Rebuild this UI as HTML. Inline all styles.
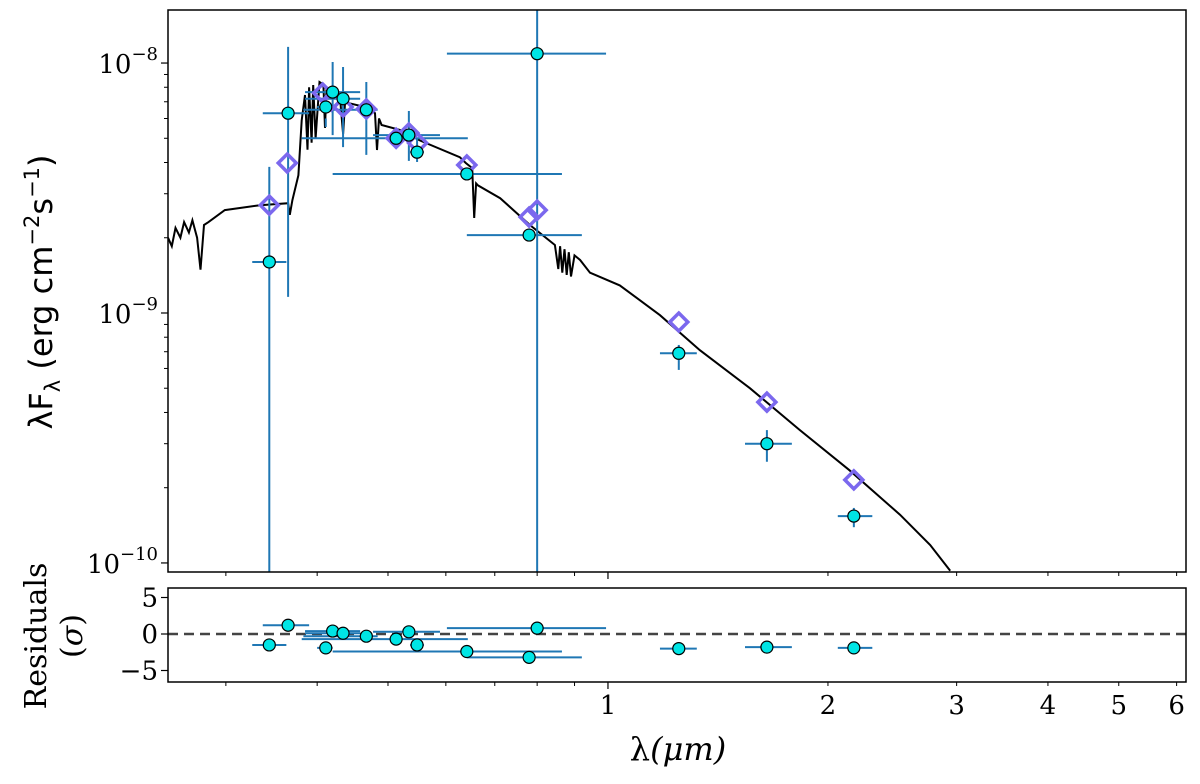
<!DOCTYPE html>
<html><head><meta charset="utf-8"><style>
body{margin:0;background:#fff;}
svg{display:block;font-family:"DejaVu Sans","Liberation Sans",sans-serif;}
</style></head><body>
<svg id="chart" width="1200" height="784" viewBox="0 0 1200 784" xmlns="http://www.w3.org/2000/svg">
<rect width="1200" height="784" fill="#fff"/>
<defs>
<clipPath id="clipMain"><rect x="168" y="10" width="1018" height="562"/></clipPath>
<clipPath id="clipRes"><rect x="168" y="588" width="1018" height="94"/></clipPath>
</defs>
<g id="main"></g>
<g id="res"></g>
<g id="axes"></g>
<text transform="translate(52,292) rotate(-90)" text-anchor="middle" font-size="32">λF<tspan font-size="21" dy="8">λ</tspan><tspan dy="-8"> (erg cm</tspan><tspan font-size="21" dy="-13">−2</tspan><tspan dy="13">s</tspan><tspan font-size="21" dy="-13">−1</tspan><tspan dy="13">)</tspan></text>
<text transform="translate(46,636) rotate(-90)" text-anchor="middle" font-size="30" font-family="DejaVu Serif,serif">Residuals</text>
<text transform="translate(82,636) rotate(-90)" text-anchor="middle" font-size="30" font-family="DejaVu Serif,serif">(<tspan font-style="italic">σ</tspan>)</text>
<text x="678" y="760" text-anchor="middle" font-size="32" font-family="DejaVu Serif,serif" font-style="italic"><tspan font-style="normal">λ</tspan>(μm)</text>
</svg>
<script>
const obsWave=[0.344,0.365,0.411,0.420,0.434,0.467,0.513,0.534,0.548,0.641,0.78,0.80,1.25,1.65,2.17];
const obsFlux=[1.6e-9,6.3e-9,6.67e-9,7.65e-9,7.2e-9,6.5e-9,5.0e-9,5.15e-9,4.4e-9,3.6e-9,2.05e-9,1.09e-8,6.9e-10,3.0e-10,1.54e-10];
const obsWaveLo=[0.326,0.337,0.400,0.385,0.385,0.383,0.381,0.477,0.536,0.420,0.641,0.602,1.178,1.540,2.063];
const obsWaveHi=[0.363,0.390,0.420,0.458,0.458,0.484,0.643,0.589,0.560,0.865,0.921,0.994,1.323,1.785,2.30];
const obsFluxLo=[1e-11,1.16e-9,5.55e-9,5.15e-9,4.61e-9,4.29e-9,4.8e-9,4.06e-9,4.02e-9,3.4e-9,1.95e-9,1e-11,5.92e-10,2.54e-10,1.39e-10];
const obsFluxHi=[3.84e-9,1.16e-8,6.0e-9,1.01e-8,9.64e-9,8.4e-9,5.2e-9,6.43e-9,5.0e-9,3.8e-9,2.15e-9,1e-7,7.45e-10,3.40e-10,1.66e-10];
const synWave=[0.344,0.364,0.407,0.418,0.434,0.467,0.513,0.534,0.549,0.641,0.78,0.80,1.25,1.65,2.17];
const synFlux=[2.70e-9,3.98e-9,7.59e-9,7.05e-9,6.67e-9,6.55e-9,5.0e-9,5.25e-9,4.79e-9,3.91e-9,2.42e-9,2.58e-9,9.2e-10,4.4e-10,2.15e-10];
const residuals=[-1.5,1.2,-1.9,0.4,0.1,-0.3,-0.7,0.3,-1.5,-2.4,-3.2,0.8,-2.0,-1.8,-1.9];
const modelWave=[0.250,0.253,0.256,0.260,0.263,0.267,0.270,0.274,0.277,0.280,0.284,0.299,0.334,0.365,0.367,0.370,0.377,0.381,0.385,0.388,0.390,0.393,0.395,0.398,0.403,0.408,0.410,0.412,0.417,0.430,0.434,0.437,0.443,0.472,0.480,0.483,0.486,0.490,0.519,0.553,0.627,0.639,0.652,0.656,0.660,0.664,0.712,0.782,0.846,0.855,0.860,0.866,0.872,0.878,0.884,0.890,0.900,0.916,0.945,1.038,1.178,1.336,1.564,1.831,2.14,2.51,2.76,2.94];
const modelFlux=[2.0e-9,1.85e-9,2.19e-9,2.0e-9,2.31e-9,2.1e-9,2.35e-9,2.0e-9,1.49e-9,2.25e-9,2.31e-9,2.58e-9,2.70e-9,2.75e-9,2.47e-9,2.83e-9,3.56e-9,5.9e-9,7.45e-9,4.5e-9,8.0e-9,4.8e-9,8.17e-9,5.0e-9,8.4e-9,8.2e-9,5.5e-9,7.9e-9,7.94e-9,7.2e-9,5.2e-9,7.1e-9,6.9e-9,6.6e-9,6.3e-9,4.49e-9,6.0e-9,5.65e-9,5.4e-9,4.9e-9,4.2e-9,3.98e-9,3.8e-9,2.4e-9,3.3e-9,3.24e-9,2.88e-9,2.25e-9,1.87e-9,1.5e-9,1.85e-9,1.45e-9,1.8e-9,1.42e-9,1.75e-9,1.4e-9,1.7e-9,1.63e-9,1.45e-9,1.29e-9,9.8e-10,7.1e-10,5.0e-10,3.4e-10,2.35e-10,1.56e-10,1.18e-10,0.93e-10];
const xMinorTicks=[0.3,0.4,0.5,0.6,0.7,0.8,0.9,2,3,4,5,6];
const xMinorLabels=["","","","","","","","2","3","4","5","6"];
const yMajor=[1e-10,1e-9,1e-8];
const yMajorExp=["−10","−9","−8"];
const resTicks=[5,0,-5];

const NS="http://www.w3.org/2000/svg";
const X0=168,X1=1186,MT=10,MB=572,RT=588,RB=682;
const lxMin=Math.log10(0.25),lxMax=Math.log10(6.18);
const lyMin=Math.log10(0.92e-10),lyMax=Math.log10(1.63e-8);
const xs=v=>X0+(Math.log10(v)-lxMin)/(lxMax-lxMin)*(X1-X0);
const ys=v=>MB-(Math.log10(v)-lyMin)/(lyMax-lyMin)*(MB-MT);
const rs=v=>634-v*7.3;
const TF="DejaVu Serif,Liberation Serif,serif";
function mk(tag,attrs,parent){const e=document.createElementNS(NS,tag);for(const k in attrs)e.setAttribute(k,attrs[k]);parent.appendChild(e);return e;}
const main=document.getElementById('main'),res=document.getElementById('res'),axes=document.getElementById('axes');
const mc=mk('g',{'clip-path':'url(#clipMain)'},main);
const rc=mk('g',{'clip-path':'url(#clipRes)'},res);

let d='';modelWave.forEach((w,i)=>{d+=(i?'L':'M')+xs(w).toFixed(1)+','+ys(modelFlux[i]).toFixed(1);});
const ml=mk('path',{d:d,fill:'none',stroke:'#000','stroke-width':2},mc);



obsWave.forEach((w,i)=>{
  const g=mk('g',{stroke:'#1f77b4','stroke-width':2},mc);
  
  
  mk('line',{x1:xs(obsWaveLo[i]),x2:xs(obsWaveHi[i]),y1:ys(obsFlux[i]),y2:ys(obsFlux[i])},g);
  mk('line',{x1:xs(w),x2:xs(w),y1:ys(obsFluxLo[i]),y2:ys(obsFluxHi[i])},g);
});
synWave.forEach((w,i)=>{
  const cx=xs(w),cy=ys(synFlux[i]),r=9;
  const p=mk('polygon',{points:`${cx},${cy-r} ${cx+r},${cy} ${cx},${cy+r} ${cx-r},${cy}`,fill:'none',stroke:'#7b68ee','stroke-width':3.5},mc);
  
  
});
obsWave.forEach((w,i)=>{
  const c=mk('circle',{cx:xs(w),cy:ys(obsFlux[i]),r:6,fill:'#00e5e5',stroke:'#000','stroke-width':1.2},mc);
  
  
});

const zl=mk('line',{x1:X0,x2:X1,y1:rs(0),y2:rs(0),stroke:'#444','stroke-width':2.5,'stroke-dasharray':'10,6'},rc);


obsWave.forEach((w,i)=>{
  const l=mk('line',{x1:xs(obsWaveLo[i]),x2:xs(obsWaveHi[i]),y1:rs(residuals[i]),y2:rs(residuals[i]),stroke:'#1f77b4','stroke-width':2},rc);
  
  
});
obsWave.forEach((w,i)=>{
  const c=mk('circle',{cx:xs(w),cy:rs(residuals[i]),r:6,fill:'#00e5e5',stroke:'#000','stroke-width':1.2},rc);
  
  
});

const f1=mk('rect',{x:X0,y:MT,width:X1-X0,height:MB-MT,fill:'none',stroke:'#000','stroke-width':1.5},axes);


const f2=mk('rect',{x:X0,y:RT,width:X1-X0,height:RB-RT,fill:'none',stroke:'#000','stroke-width':1.5},axes);



[MB,RB].forEach(yb=>{
  mk('line',{x1:xs(1),x2:xs(1),y1:yb,y2:yb+7,stroke:'#000','stroke-width':1.2},axes);
  xMinorTicks.forEach(v=>mk('line',{x1:xs(v),x2:xs(v),y1:yb,y2:yb+4,stroke:'#000','stroke-width':1},axes));
});
const t1=mk('text',{x:xs(1),y:714,'text-anchor':'middle','font-size':26,'font-family':TF},axes);t1.textContent='1';


xMinorTicks.forEach((v,i)=>{if(!xMinorLabels[i])return;
  const t=mk('text',{x:xs(v),y:714,'text-anchor':'middle','font-size':26,'font-family':TF},axes);t.textContent=xMinorLabels[i];
  
  
});
yMajor.forEach((v,i)=>{
  const y=ys(v);
  mk('line',{x1:X0-7,x2:X0,y1:y,y2:y,stroke:'#000','stroke-width':1.2},axes);
  for(let k=2;k<10;k++){const mv=v*k;if(mv<1.63e-8&&mv>0.92e-10){mk('line',{x1:X0-4,x2:X0,y1:ys(mv),y2:ys(mv),stroke:'#000','stroke-width':1},axes);}}
  const t=mk('text',{x:X0-10,y:y+10,'text-anchor':'end','font-size':26,'font-family':TF},axes);
  t.innerHTML='10<tspan font-size="18" dy="-13">'+yMajorExp[i]+'</tspan>';
  
  
});
resTicks.forEach(v=>{
  mk('line',{x1:X0-7,x2:X0,y1:rs(v),y2:rs(v),stroke:'#000','stroke-width':1.2},axes);
  const t=mk('text',{x:X0-10,y:rs(v)+9,'text-anchor':'end','font-size':26,'font-family':TF},axes);t.textContent=v<0?'−'+(-v):String(v);
  
  
});
</script>
</body></html>
